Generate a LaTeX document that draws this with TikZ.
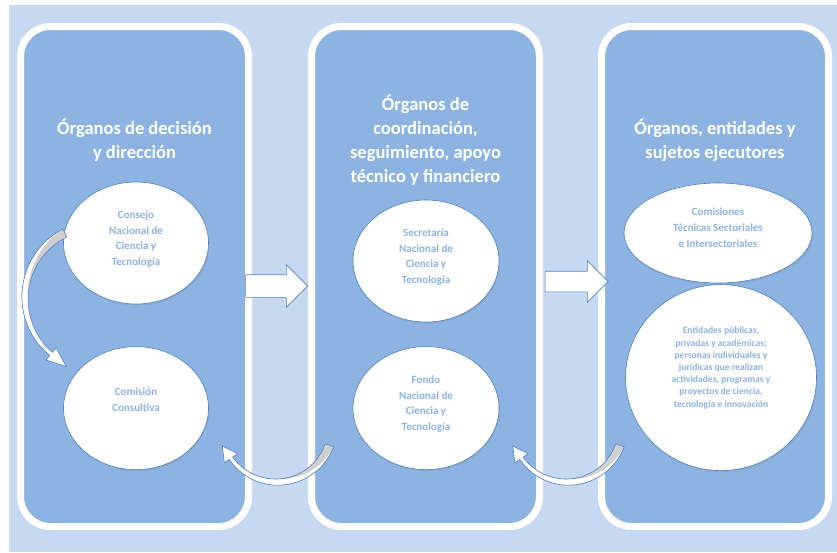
\documentclass[tikz,border=0pt]{standalone}
\usepackage{fontspec}
\setmainfont{Carlito}
\usetikzlibrary{positioning,calc,shapes.geometric,shapes.arrows,shadows}

\definecolor{bgBlue}{HTML}{C6D9F1}
\definecolor{panelBlue}{HTML}{8DB3E2}
\definecolor{lineBlue}{HTML}{4F81BD}
\definecolor{bendGray}{HTML}{CFCFCF}

\begin{document}
\begin{tikzpicture}[x=1pt, y=-1pt,
        panel/.style={
                draw=white, line width=7pt, fill=panelBlue,
                rounded corners=30pt, minimum width=228pt, minimum height=500pt,
                drop shadow={shadow xshift=1pt, shadow yshift=-2pt, opacity=0.25}
            },
        panelTitle/.style={
                text=white, align=center,
                font=\fontsize{18.5}{24}\selectfont\bfseries
            },
        bubble/.style={
                draw=lineBlue, line width=0.6pt, fill=white, shape=ellipse,
                inner sep=0pt, text=panelBlue, align=center, text depth=10pt,
                font=\fontsize{11}{15.5}\selectfont\bfseries,
                drop shadow={shadow xshift=1pt, shadow yshift=-1.5pt, opacity=0.2}
            },
        blockArrow/.style={
                draw=lineBlue, line width=0.6pt, fill=white, shape=single arrow,
                inner xsep=0pt, inner ysep=11pt, single arrow head extend=10pt,
                minimum width=42pt, minimum height=62pt
            },
        pics/bendArrow/.style n args={7}{code={
                        % tail angle, head angle, tip angle, radius, tail width, head width, head half width
                        \pgfmathsetmacro\bendMid{#1+0.55*(#2-#1)}
                        \def\bodyline{plot[domain=#1:#2, samples=40] (\x:{#4+(#5+(#6-#5)*(\x-#1)/(#2-#1))/2})
                            -- (#2:{#4+#7}) -- (#3:{#4/cos(#3-#2)}) -- (#2:{#4-#7})
                            -- plot[domain=#2:#1, samples=40] (\x:{#4-(#5+(#6-#5)*(\x-#1)/(#2-#1))/2}) -- cycle}
                        \fill[white] \bodyline;
                        \fill[bendGray] plot[domain=#1:\bendMid, samples=30] (\x:{#4-(#5+(#6-#5)*(\x-#1)/(#2-#1))/2})
                        -- plot[domain=\bendMid:#1, samples=30] (\x:{#4-(#5+(#6-#5)*(\x-#1)/(#2-#1))/2+(#5+(#6-#5)*(\x-#1)/(#2-#1))*(1-(\x-#1)/(\bendMid-#1))}) -- cycle;
                        \draw[lineBlue, line width=0.6pt] \bodyline;
                    }}
    ]

    \fill[white] (0,0) rectangle (837,552);
    \fill[bgBlue] (9,5) rectangle (837,552);
    \useasboundingbox (0,0) rectangle (837,552);

    % Panels
    \node[panel] (p1) at (134.5,276.5) {};
    \node[panel] (p2) at (425.5,276.5) {};
    \node[panel, minimum width=227pt] (p3) at (715,276.5) {};

    \node[panelTitle] (t1) at ([yshift=-117pt]p1.north) {Órganos de decisión\\y dirección};
    \node[panelTitle] (t2) at ([yshift=-117pt]p2.north) {Órganos de\\coordinación,\\seguimiento, apoyo\\técnico y financiero};
    \node[panelTitle] (t3) at ([yshift=-117pt]p3.north) {Órganos, entidades y\\sujetos ejecutores};

    % First column
    \node[bubble, minimum width=145pt, minimum height=122pt] (consejo) at (136,243) {Consejo\\Nacional de\\Ciencia y\\Tecnología};
    \node[bubble, minimum width=145pt, minimum height=123pt, text depth=17pt, below=42pt of consejo] (consultiva) {Comisión\\Consultiva};

    % Second column
    \node[bubble, minimum width=146pt, minimum height=122pt] (secretaria) at (426,261) {Secretaría\\Nacional de\\Ciencia y\\Tecnología};
    \node[bubble, minimum width=146pt, minimum height=123pt, below=24pt of secretaria] (fondo) {Fondo\\Nacional de\\Ciencia y\\Tecnología};

    % Third column
    \node[bubble, minimum width=188pt, minimum height=100pt, font=\fontsize{11}{16}\selectfont\bfseries] (comisiones) at (718,233) {Comisiones\\Técnicas Sectoriales\\e Intersectoriales};
    \node[bubble, minimum width=191pt, minimum height=186pt, below=1pt of comisiones, xshift=3pt, text depth=21pt,
        font=\fontsize{9.6}{12.2}\selectfont\bfseries] (entidades)
        {Entidades públicas,\\privadas y académicas;\\personas individuales y\\jurídicas que realizan\\actividades, programas y\\proyectos de ciencia,\\tecnología e innovación};

    % Arrows between panels
    \node[blockArrow] (a1) at ($(p1.east)!0.5!(p2.west)+(-9,9.5)$) {};
    \node[blockArrow, inner ysep=10pt, minimum width=41pt, minimum height=63pt, single arrow head extend=10.5pt] (a2) at ($(p2.east)!0.5!(p3.west)+(1,5)$) {};

    % Curved arrows
    \begin{scope}[shift={($(consejo.center)+(-38,55)$)}]
        \pic {bendArrow={243}{130}{115}{73}{9}{4}{8}};
    \end{scope}
    \begin{scope}[shift={($(consultiva.east)+(68,18)$)}, xscale=1.1]
        \pic {bendArrow={20}{145}{160}{56}{9}{4}{8}};
    \end{scope}
    \begin{scope}[shift={($(fondo.east)+(68,18)$)}, xscale=1.1]
        \pic {bendArrow={20}{145}{160}{56}{9}{4}{8}};
    \end{scope}
\end{tikzpicture}
\end{document}
